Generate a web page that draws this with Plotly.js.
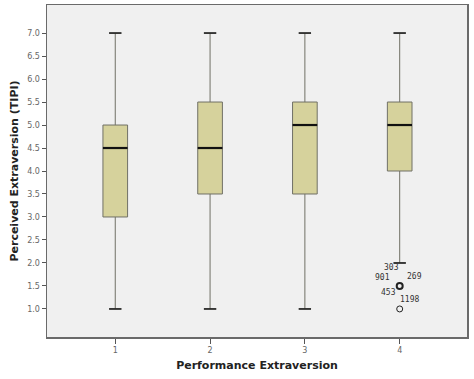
<!DOCTYPE html>
<html><head><meta charset="utf-8">
<script src="https://cdn.plot.ly/plotly-3.0.1.min.js"></script>
<style>html,body{margin:0;padding:0;background:#fff}#chart{width:474px;height:379px}</style>
</head><body><div id="chart"></div>
<script>
const categories = [1, 2, 3, 4];
const tickLabels = ['1', '2', '3', '4'];
const lowerWhisker = [1.0, 1.0, 1.0, 2.0];
const q1 = [3.0, 3.5, 3.5, 4.0];
const median = [4.5, 4.5, 5.0, 5.0];
const q3 = [5.0, 5.5, 5.5, 5.5];
const upperWhisker = [7.0, 7.0, 7.0, 7.0];
const outlierX = [4, 4];
const outlierY = [1.5, 1.0];
const outlierIds = ['303', '901', '269', '453', '1198'];
const outlierIdY = [1.5, 1.5, 1.5, 1.5, 1.0];

const boxW = 0.26;
const capW = 0.13;
const idShift = [[-8, 18], [-17, 8], [15, 9], [-11, -7], [10, 9]];

const medX = [], medY = [], capX = [], capY = [];
categories.forEach((c, i) => {
  medX.push(c - boxW / 2, c + boxW / 2, null); medY.push(median[i], median[i], null);
  capX.push(c - capW / 2, c + capW / 2, null, c - capW / 2, c + capW / 2, null);
  capY.push(lowerWhisker[i], lowerWhisker[i], null, upperWhisker[i], upperWhisker[i], null);
});

const traces = [
  { type: 'box', x: categories, q1: q1, median: median, q3: q3,
    lowerfence: lowerWhisker, upperfence: upperWhisker, width: boxW, whiskerwidth: 0.5,
    fillcolor: '#d6d29c', line: { color: '#707066', width: 1 }, boxpoints: false,
    showlegend: false, hoverinfo: 'skip' },
  { type: 'scatter', mode: 'lines', x: medX, y: medY, line: { color: '#111', width: 2.2 },
    showlegend: false, hoverinfo: 'skip' },
  { type: 'scatter', mode: 'lines', x: capX, y: capY, line: { color: '#222', width: 1.6 },
    showlegend: false, hoverinfo: 'skip' },
  { type: 'scatter', mode: 'markers', x: outlierX, y: outlierY,
    marker: { symbol: 'circle-open', size: 6, color: '#222', line: { width: [2, 1], color: '#222' } },
    showlegend: false, hoverinfo: 'skip' }
];

const annotations = outlierIds.map((t, i) => ({
  x: 4, y: outlierIdY[i], text: t, showarrow: false, xshift: idShift[i][0], yshift: idShift[i][1],
  font: { family: 'DejaVu Sans Mono', size: 8, color: '#333' }
}));

const layout = {
  width: 474, height: 379,
  margin: { l: 47, r: 7, t: 5, b: 42 },
  paper_bgcolor: '#ffffff', plot_bgcolor: '#f0f0f0',
  xaxis: { range: [0.28, 4.71], tickvals: categories, ticktext: tickLabels, showgrid: false, zeroline: false,
    showline: true, mirror: true, linecolor: '#6a6a6a', linewidth: 1.5,
    ticks: 'outside', ticklen: 5, tickcolor: '#555',
    tickfont: { family: 'DejaVu Sans', size: 8, color: '#666' },
    title: { text: 'Performance Extraversion', font: { family: 'DejaVu Sans', size: 11, color: '#222', weight: 'bold' }, standoff: 7 } },
  yaxis: { range: [0.39, 7.61], tickvals: [1,1.5,2,2.5,3,3.5,4,4.5,5,5.5,6,6.5,7], tickformat: '.1f',
    showgrid: false, zeroline: false,
    showline: true, mirror: true, linecolor: '#6a6a6a', linewidth: 1.5,
    ticks: 'outside', ticklen: 4, tickcolor: '#555',
    tickfont: { family: 'DejaVu Sans', size: 8, color: '#666' },
    title: { text: 'Perceived Extraversion (TIPI)', font: { family: 'DejaVu Sans', size: 11, color: '#222', weight: 'bold' }, standoff: 6 } },
  annotations: annotations
};

Plotly.newPlot('chart', traces, layout, { displayModeBar: false, staticPlot: true });
</script></body></html>
